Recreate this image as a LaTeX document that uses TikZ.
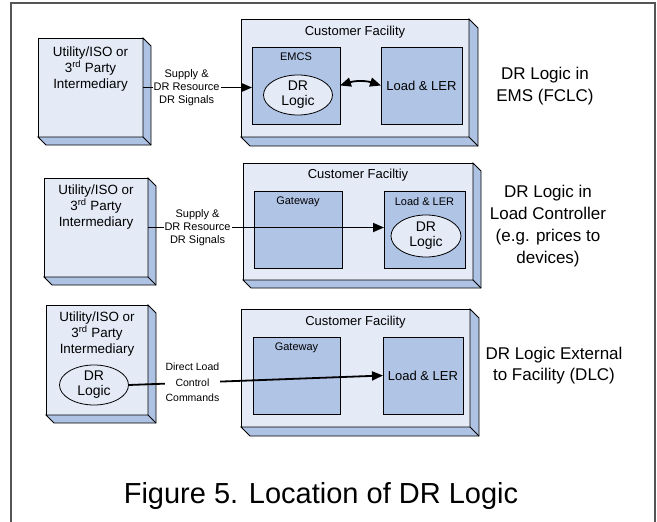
\documentclass[tikz,border=0pt]{standalone}
\usepackage{fontspec}
\setmainfont{Liberation Sans}
\usetikzlibrary{shapes.geometric,positioning,arrows.meta}
\definecolor{frontblue}{HTML}{E4EBF7}
\definecolor{sideblue}{HTML}{AEC2E3}
\definecolor{partblue}{HTML}{B0C4E6}
\definecolor{framegray}{HTML}{555555}

\begin{document}
\begin{tikzpicture}[x=1pt,y=-1pt,%
		   unit/.style={draw,fill=frontblue,outer sep=0pt,anchor=north west,line width=0.8pt},
		   part/.style={draw,fill=partblue,outer sep=0pt,anchor=north west,line width=0.8pt},
		   drlogic/.style={ellipse,draw,fill=frontblue,align=center,inner sep=0pt,line width=0.8pt,
		                   minimum width=69pt,minimum height=40pt,font=\fontsize{14}{15}\selectfont},
		   boxtext/.style={align=center,inner sep=0pt,font=\fontsize{13.4}{16}\selectfont},
		   title/.style={inner sep=0pt,font=\fontsize{13}{15}\selectfont},
		   tag/.style={inner sep=0pt,font=\fontsize{11}{13}\selectfont},
		   sidenote/.style={align=center,inner sep=0pt,font=\fontsize{17}{22}\selectfont},
		   siglabel/.style={fill=white,align=center,inner sep=1pt,font=\fontsize{11}{13}\selectfont},
		   signal/.style={line width=1.8pt,-{Triangle[length=11pt,width=9pt]}},
		   boxside/.style={fill=sideblue,draw=black,line width=0.8pt}]

	\useasboundingbox (0,0) rectangle (657,522);
	\draw[framegray,line width=1.2pt] (11,522) |- (655,3) -- (655,522);

	% row 1: logic in the EMS
	\node[unit,minimum width=105,minimum height=99] (util1) at (38,38) {};
	\node[boxtext,below=9pt of util1.north] (util1txt) {Utility/ISO or\\3\textsuperscript{rd} Party\\Intermediary};
	\node[unit,minimum width=228,minimum height=118] (fac1) at (241,19) {};
	\node[title,below=7pt of fac1.north] (fac1txt) {Customer Facility};
	\node[part,minimum width=88,minimum height=77] (emcs) at (252,47) {};
	\node[tag,below=6pt of emcs.north] (emcstxt) {EMCS};
	\node[drlogic] (logic1) at (298,95) {DR\\Logic};
	\node[part,minimum width=81,minimum height=77,font=\fontsize{13}{15}\selectfont] (load1) at (381,47) {Load \& LER};
	\node[sidenote] (note1) at (545,86) {DR Logic in\\EMS (FCLC)};

	% row 2: logic in the load controller
	\node[unit,minimum width=104,minimum height=99] (util2) at (44,178) {};
	\node[boxtext,below=7pt of util2.north] (util2txt) {Utility/ISO or\\3\textsuperscript{rd} Party\\Intermediary};
	\node[unit,minimum width=230,minimum height=117] (fac2) at (243,163) {};
	\node[title,below=6pt of fac2.north] (fac2txt) {Customer Faciltiy};
	\node[part,minimum width=88,minimum height=77] (gw2) at (254,191) {};
	\node[tag,below=6pt of gw2.north] (gw2txt) {Gateway};
	\node[part,minimum width=81,minimum height=77] (load2) at (384,191) {};
	\node[tag,below=6pt of load2.north] (load2txt) {Load \& LER};
	\node[drlogic,minimum width=70,minimum height=42] (logic2) at (426,236) {DR\\Logic};
	\node[sidenote] (note2) at (548,226) {DR Logic in\\Load Controller\\(e.g. prices to\\devices)};

	% row 3: logic outside the facility
	\node[unit,minimum width=102,minimum height=110] (util3) at (46,305) {};
	\node[boxtext,below=7pt of util3.north] (util3txt) {Utility/ISO or\\3\textsuperscript{rd} Party\\Intermediary};
	\node[drlogic] (logic3) at (94,385) {DR\\Logic};
	\node[unit,minimum width=229,minimum height=118] (fac3) at (241,309) {};
	\node[title,below=7pt of fac3.north] (fac3txt) {Customer Facility};
	\node[part,minimum width=87,minimum height=77] (gw3) at (253,337) {};
	\node[tag,below=6pt of gw3.north] (gw3txt) {Gateway};
	\node[part,minimum width=80,minimum height=77,font=\fontsize{13}{15}\selectfont] (load3) at (383,337) {Load \& LER};
	\node[sidenote,font=\fontsize{17}{21}\selectfont] (note3) at (554,366) {DR Logic External\\to Facility (DLC)};

	% 3d sides of the boxes
	\foreach \n/\d in {util1/8,fac1/9,util2/8,fac2/8,util3/8,fac3/9} {
	    \filldraw[boxside] (\n.north east) -- ++(\d,\d) -- ([shift={(\d,\d)}]\n.south east)
	        -- ([shift={(\d,\d)}]\n.south west) -- (\n.south west) -- (\n.south east) -- cycle;
	    \draw[line width=0.8pt] (\n.south east) -- ++(\d,\d);
	}

	% signals
	\draw[signal] (util1.east) -- (util1.east -| emcs.west)
	    node[siglabel,pos=0.4] (sig1) {Supply \&\\DR Resource\\DR Signals};
	\draw[signal,{Triangle[length=11pt,width=9pt]}-{Triangle[length=11pt,width=9pt]}] (emcs.east) to[bend left=18] (load1.west);
	\draw[signal] (util2.east) -- (util2.east -| load2.west)
	    node[siglabel,pos=0.21] (sig2) {Supply \&\\DR Resource\\DR Signals};
	\draw[signal] (logic3.east) -- (load3.west)
	    node[siglabel,pos=0.25,font=\fontsize{10.5}{15.5}\selectfont] (sig3) {Direct Load\\Control\\Commands};

	\node[anchor=base,font=\fontsize{29}{32}\selectfont] (caption) at (321,503) {Figure 5. Location of DR Logic};
\end{tikzpicture}
\end{document}
